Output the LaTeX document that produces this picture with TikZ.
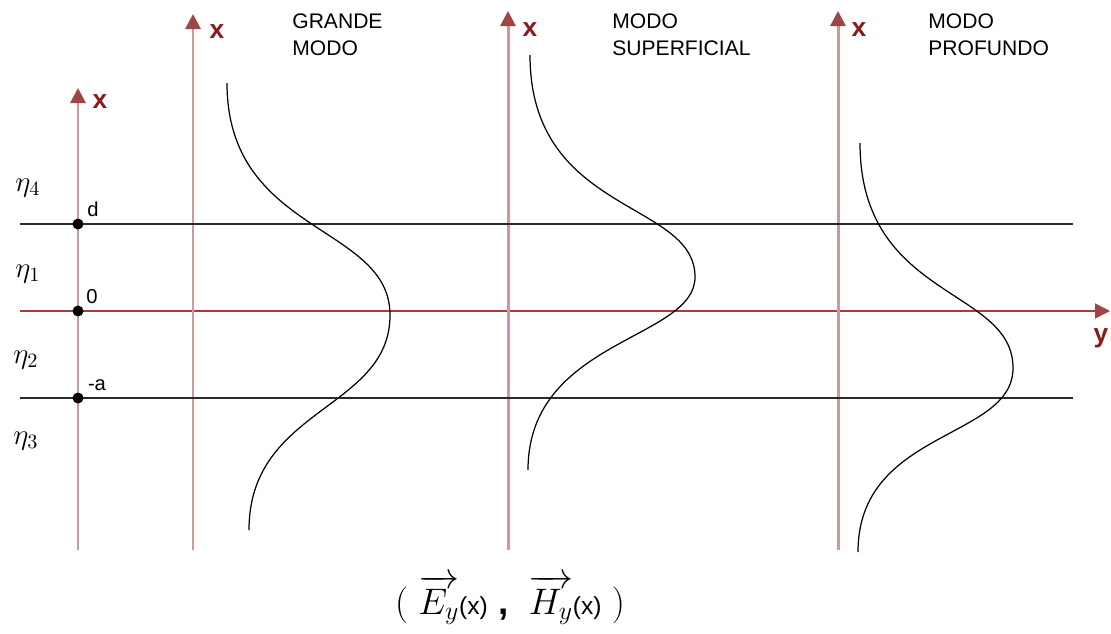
\RequirePackage{fix-cm}
\documentclass[tikz,border=0pt]{standalone}
\usepackage{amsmath}
\usepackage{fontspec}
\setmainfont{Liberation Sans}
\usetikzlibrary{arrows.meta}
\definecolor{axispink}{HTML}{CC9A9A}
\definecolor{axisred}{HTML}{A04545}
\definecolor{labelred}{HTML}{8B1A1A}
\definecolor{zeroline}{HTML}{A83C3C}
\definecolor{ink}{HTML}{2A2A2A}
\tikzset{
  axisline/.style={draw=axispink,line width=1.7pt,
                   -{Triangle[length=3mm,width=3mm,color=axisred]}},
  yaxisline/.style={draw=zeroline,line width=0.8pt,
                    -{Triangle[length=3mm,width=3mm,color=axisred]}},
  layerline/.style={draw=ink,line width=1pt},
  modecurve/.style={draw=black,line width=0.7pt},
  axislabel/.style={text=labelred,font=\fontsize{15}{17}\selectfont\bfseries},
  modetitle/.style={anchor=north west,align=left,inner sep=0pt,
                    font=\fontsize{12}{15.5}\selectfont},
  pointlabel/.style={font=\fontsize{11.5}{13}\selectfont,inner sep=0pt},
  mediumlabel/.style={font=\fontsize{16.5}{18}\selectfont,inner sep=0pt},
  interface/.style={circle,fill=black,inner sep=0pt,minimum size=2.2mm}
}
\newcommand{\argx}{\text{\fontsize{14}{16}\selectfont(x)}}

\begin{document}
\begin{tikzpicture}[x=0.02cm,y=-0.02cm]
  \useasboundingbox (0,0) rectangle (1111,633);

  % layer boundaries and y axis
  \coordinate (dl) at (20,224);   \coordinate (dr) at (1073,224);
  \coordinate (zl) at (20,311);   \coordinate (zr) at (1110,311);
  \coordinate (al) at (20,398);   \coordinate (ar) at (1073,398);
  \draw[yaxisline] (zl) -- (zr);

  % x axes
  \coordinate (ref0) at (78,550);  \coordinate (reftip) at (78,88);
  \coordinate (gm0) at (193,550);  \coordinate (gmtip) at (193,14);
  \coordinate (sm0) at (508,550);  \coordinate (smtip) at (508,11);
  \coordinate (pm0) at (838,550);  \coordinate (pmtip) at (838,11);
  \draw[axisline] (ref0) -- (reftip);
  \draw[axisline] (gm0) -- (gmtip);
  \draw[axisline] (sm0) -- (smtip);
  \draw[axisline] (pm0) -- (pmtip);

  \draw[layerline] (dl) -- (dr);
  \draw[layerline] (al) -- (ar);

  \node[axislabel] (xref) at (100,102) {x};
  \node[axislabel] (xgm) at (217,32) {x};
  \node[axislabel] (xsm) at (530,30) {x};
  \node[axislabel] (xpm) at (859,30) {x};
  \node[axislabel] (ylab) at (1101,338) {y};

  % interfaces on the reference axis
  \node[interface] (pd) at (78,224) {};
  \node[interface] (p0) at (78,311) {};
  \node[interface] (pa) at (78,398) {};
  \node[pointlabel] (ld) at (93,209) {d};
  \node[pointlabel] (l0) at (92,297) {0};
  \node[pointlabel] (la) at (97,385) {-a};

  \node[mediumlabel] (n4) at (28,188) {$\eta_4$};
  \node[mediumlabel] (n1) at (28,274) {$\eta_1$};
  \node[mediumlabel] (n2) at (26,360) {$\eta_2$};
  \node[mediumlabel] (n3) at (26,441) {$\eta_3$};

  % mode profiles
  \coordinate (g0) at (227,83);  \coordinate (g1) at (390,315);  \coordinate (g2) at (249,530);
  \draw[modecurve] (g0) .. controls (227,235) and (390,224) .. (g1)
                        .. controls (390,410) and (249,407) .. (g2);
  \coordinate (s0) at (530,55);  \coordinate (s1) at (695,277);  \coordinate (s2) at (528,470);
  \draw[modecurve] (s0) .. controls (530,215) and (695,200) .. (s1)
                        .. controls (695,340) and (528,339) .. (s2);
  \coordinate (f0) at (860,143); \coordinate (f1) at (1013,368); \coordinate (f2) at (858,552);
  \draw[modecurve] (f0) .. controls (860,300) and (1013,287) .. (f1)
                        .. controls (1013,440) and (858,429) .. (f2);

  \node[modetitle] (tgm) at (292,13) {GRANDE\\MODO};
  \node[modetitle] (tsm) at (612,13) {MODO\\SUPERFICIAL};
  \node[modetitle] (tpm) at (928,13) {MODO\\PROFUNDO};

  \node[font=\fontsize{21}{24}\selectfont] (fields) at (510,600)
    {$(\;\overrightarrow{E_y}\argx\;\textbf{,}\ \ \overrightarrow{H_y}\argx\;)$};
\end{tikzpicture}
\end{document}
